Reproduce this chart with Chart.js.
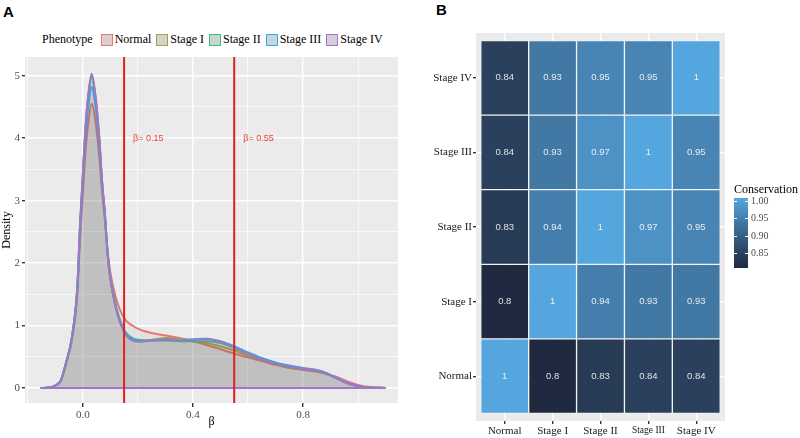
<!DOCTYPE html>
<html>
<head>
<meta charset="utf-8">
<script src="https://cdn.jsdelivr.net/npm/chart.js@4/dist/chart.umd.min.js"></script>
<style>
  body { margin: 0; background: #fff; width: 800px; height: 438px; position: relative; overflow: hidden; font-family: 'Liberation Serif', serif; }
  canvas { position: absolute; top: 0; }
  #chartA { left: 0; }
  #chartB { left: 400px; }
  .tag { position: absolute; font: bold 15px 'Liberation Sans', Arial, sans-serif; color: #000; }
  #legendA { position: absolute; left: 42px; top: 32px; display: flex; align-items: center; font-size: 12px; white-space: nowrap; color: #000; }
  #legendA .key { width: 10px; height: 10px; border: 1.5px solid; margin: 0 2px 0 5px; }
  #legendA .title { margin-right: 3px; }
</style>
</head>
<body>
<div class="tag" style="left:3px;top:3px">A</div>
<div class="tag" style="left:436px;top:1px">B</div>
<div id="legendA"><span class="title">Phenotype</span></div>
<canvas id="chartA" width="400" height="438"></canvas>
<canvas id="chartB" width="400" height="438"></canvas>
<script>
// --- panel A: density of beta per phenotype ---
const phenotypes = ['Normal', 'Stage I', 'Stage II', 'Stage III', 'Stage IV'];
const phenoColors = ['#E8756E', '#A3A24B', '#3FBA85', '#36A6DF', '#A275C6'];

const densityX = [-0.153, -0.12, -0.10, -0.08, -0.06, -0.04, -0.02, -0.01, 0.0, 0.01, 0.02, 0.032, 0.045,
  0.06, 0.07, 0.08, 0.09, 0.10, 0.12, 0.15, 0.18, 0.21, 0.25, 0.30, 0.35, 0.40, 0.45, 0.50, 0.55,
  0.60, 0.65, 0.70, 0.75, 0.80, 0.85, 0.88, 0.92, 0.96, 1.00, 1.04, 1.10];

const normalDensity = [0, 0.01, 0.04, 0.11, 0.40, 0.76, 1.50, 2.40, 3.10, 3.80, 4.25, 4.55, 4.30,
  3.70, 3.15, 2.70, 2.20, 1.85, 1.45, 1.12, 1.00, 0.93, 0.88, 0.84, 0.80, 0.75, 0.69, 0.62, 0.55,
  0.49, 0.43, 0.37, 0.32, 0.29, 0.26, 0.23, 0.18, 0.11, 0.05, 0.015, 0];
const stageIDensity = [0, 0.01, 0.04, 0.12, 0.42, 0.80, 1.60, 2.60, 3.40, 4.18, 4.68, 5.00, 4.70,
  3.98, 3.30, 2.80, 2.16, 1.76, 1.30, 0.90, 0.78, 0.76, 0.77, 0.80, 0.79, 0.75, 0.72, 0.67, 0.60,
  0.52, 0.45, 0.39, 0.33, 0.30, 0.27, 0.23, 0.16, 0.08, 0.03, 0.01, 0];
const stageIIDensity = [0, 0.01, 0.04, 0.12, 0.42, 0.80, 1.60, 2.60, 3.38, 4.15, 4.66, 4.98, 4.68,
  3.98, 3.30, 2.80, 2.17, 1.78, 1.32, 0.93, 0.80, 0.77, 0.76, 0.76, 0.75, 0.75, 0.75, 0.72, 0.64,
  0.55, 0.46, 0.39, 0.34, 0.31, 0.28, 0.24, 0.16, 0.08, 0.03, 0.01, 0];
const stageIIIDensity = [0, 0.01, 0.04, 0.12, 0.42, 0.80, 1.58, 2.55, 3.30, 4.05, 4.52, 4.82, 4.55,
  3.90, 3.25, 2.78, 2.15, 1.76, 1.30, 0.92, 0.78, 0.75, 0.76, 0.77, 0.77, 0.78, 0.79, 0.75, 0.67,
  0.57, 0.48, 0.41, 0.36, 0.32, 0.29, 0.25, 0.17, 0.08, 0.03, 0.01, 0];
const stageIVDensity = [0, 0.01, 0.04, 0.12, 0.42, 0.80, 1.60, 2.60, 3.40, 4.20, 4.70, 5.03, 4.72,
  4.00, 3.30, 2.80, 2.15, 1.75, 1.28, 0.90, 0.76, 0.74, 0.76, 0.78, 0.77, 0.77, 0.78, 0.74, 0.65,
  0.55, 0.46, 0.39, 0.34, 0.31, 0.28, 0.24, 0.16, 0.08, 0.03, 0.01, 0];

const cutoffs = [0.15, 0.55];
const xTickLabelsA = [0.0, 0.4, 0.8];
const yTickLabelsA = [0, 1, 2, 3, 4, 5];
const xRangeA = [-0.21, 1.145];
const yRangeA = [-0.24, 5.3];

// --- panel B: conservation heatmap (rows bottom to top) ---
const stageNames = ['Normal', 'Stage I', 'Stage II', 'Stage III', 'Stage IV'];
const consNormal   = [1,    0.8,  0.83, 0.84, 0.84];
const consStageI   = [0.8,  1,    0.94, 0.93, 0.93];
const consStageII  = [0.83, 0.94, 1,    0.97, 0.95];
const consStageIII = [0.84, 0.93, 0.97, 1,    0.95];
const consStageIV  = [0.84, 0.93, 0.95, 0.95, 1];
const consRows = [consNormal, consStageI, consStageII, consStageIII, consStageIV];
const colorbarTicks = [1.00, 0.95, 0.90, 0.85];
const consLimits = [0.8, 1.0];

Chart.defaults.font.family = "'Liberation Serif', serif";
Chart.defaults.animation = false;

// legend for panel A
const legendEl = document.getElementById('legendA');
phenotypes.forEach((name, i) => {
  const key = document.createElement('span');
  key.className = 'key';
  key.style.borderColor = phenoColors[i];
  key.style.background = 'linear-gradient(' + phenoColors[i] + '22,' + phenoColors[i] + '22), #dcdcdc';
  const txt = document.createElement('span');
  txt.textContent = name;
  legendEl.appendChild(key);
  legendEl.appendChild(txt);
});

const near = (a, b) => Math.abs(a - b) < 1e-6;

const panelBg = {
  id: 'panelBg',
  beforeDraw(chart) {
    const { ctx, chartArea: a } = chart;
    ctx.save();
    ctx.fillStyle = '#EBEBEB';
    ctx.fillRect(a.left, a.top, a.right - a.left, a.bottom - a.top);
    ctx.restore();
  }
};

const cutoffLabels = {
  id: 'cutoffLabels',
  afterDatasetsDraw(chart) {
    const { ctx, scales } = chart;
    ctx.save();
    ctx.fillStyle = '#E4453A';
    ctx.font = "9px 'Liberation Sans', Arial, sans-serif";
    ctx.textBaseline = 'middle';
    cutoffs.forEach(c => {
      const x = scales.x.getPixelForValue(c) + 9;
      const y = scales.y.getPixelForValue(4);
      ctx.fillText('\u03b2= ' + c.toFixed(2), x, y);
    });
    ctx.restore();
  }
};

const densitySeries = [normalDensity, stageIDensity, stageIIDensity, stageIIIDensity, stageIVDensity];
const datasetsA = densitySeries.map((ys, i) => ({
  label: phenotypes[i],
  data: densityX.map((x, k) => ({ x: x, y: ys[k] })),
  borderColor: phenoColors[i],
  borderWidth: 2,
  backgroundColor: 'rgba(110,110,110,0.075)',
  fill: 'origin',
  pointRadius: 0,
  cubicInterpolationMode: 'monotone',
  order: 10 - i
}));
datasetsA.push({
  label: 'baseline',
  data: [{ x: densityX[0], y: 0 }, { x: densityX[densityX.length - 1], y: 0 }],
  borderColor: phenoColors[4], borderWidth: 2, pointRadius: 0, fill: false, order: 1
});
cutoffs.forEach(c => datasetsA.push({
  label: 'cutoff ' + c,
  data: [{ x: c, y: yRangeA[0] }, { x: c, y: yRangeA[1] }],
  borderColor: '#E0201B', borderWidth: 2, pointRadius: 0, fill: false, order: 0
}));

new Chart(document.getElementById('chartA'), {
  type: 'line',
  data: { datasets: datasetsA },
  options: {
    responsive: false,
    layout: { padding: { top: 57, right: 2, bottom: 9, left: 0 } },
    plugins: { legend: { display: false }, tooltip: { enabled: false } },
    scales: {
      x: {
        type: 'linear', min: xRangeA[0], max: xRangeA[1],
        afterBuildTicks: s => { s.ticks = [-0.2, 0, 0.2, 0.4, 0.6, 0.8, 1.0].map(v => ({ value: v })); },
        afterFit: s => { s.height = 26; },
        ticks: {
          autoSkip: false, maxRotation: 0, padding: 2, color: '#4d4d4d', font: { size: 11 },
          callback: v => xTickLabelsA.some(t => near(t, v)) ? v.toFixed(1) : ''
        },
        grid: {
          color: '#fff', tickLength: 4,
          lineWidth: c => (c.tick && xTickLabelsA.some(t => near(t, c.tick.value))) ? 1.4 : 0.7,
          tickColor: c => (c.tick && xTickLabelsA.some(t => near(t, c.tick.value))) ? '#333' : 'rgba(0,0,0,0)'
        },
        border: { display: false },
        title: { display: true, text: '\u03b2', color: '#000', font: { size: 12 }, padding: { top: 0, bottom: 0 } }
      },
      y: {
        type: 'linear', min: yRangeA[0], max: yRangeA[1],
        afterBuildTicks: s => { const t = []; for (let v = 0; v <= 5; v += 0.5) t.push({ value: v }); s.ticks = t; },
        afterFit: s => { s.width = 25; },
        ticks: {
          autoSkip: false, padding: 2, color: '#4d4d4d', font: { size: 11 },
          callback: v => yTickLabelsA.some(t => near(t, v)) ? String(v) : ''
        },
        grid: {
          color: '#fff', tickLength: 3,
          lineWidth: c => (c.tick && yTickLabelsA.some(t => near(t, c.tick.value))) ? 1.4 : 0.7,
          tickColor: c => (c.tick && yTickLabelsA.some(t => near(t, c.tick.value))) ? '#333' : 'rgba(0,0,0,0)'
        },
        border: { display: false },
        title: { display: true, text: 'Density', color: '#000', font: { size: 12 }, padding: { top: 0, bottom: 0 } }
      }
    }
  },
  plugins: [panelBg, cutoffLabels]
});

// colour scale interpolated in Lab between a dark and a light blue
function hexRgb(h) { return [1, 3, 5].map(i => parseInt(h.slice(i, i + 2), 16)); }
function toLab(rgb) {
  const [r, g, b] = rgb.map(c => { c /= 255; return c <= 0.04045 ? c / 12.92 : Math.pow((c + 0.055) / 1.055, 2.4); });
  const X = (0.4124564 * r + 0.3575761 * g + 0.1804375 * b) / 0.95047;
  const Y = 0.2126729 * r + 0.7151522 * g + 0.0721750 * b;
  const Z = (0.0193339 * r + 0.1191920 * g + 0.9503041 * b) / 1.08883;
  const f = t => t > 0.008856 ? Math.cbrt(t) : 7.787 * t + 16 / 116;
  return [116 * f(Y) - 16, 500 * (f(X) - f(Y)), 200 * (f(Y) - f(Z))];
}
function fromLab([L, a, b]) {
  const fy = (L + 16) / 116, fx = fy + a / 500, fz = fy - b / 200;
  const inv = t => t * t * t > 0.008856 ? t * t * t : (t - 16 / 116) / 7.787;
  const X = inv(fx) * 0.95047, Y = inv(fy), Z = inv(fz) * 1.08883;
  const r = 3.2404542 * X - 1.5371385 * Y - 0.4985314 * Z;
  const g = -0.9692660 * X + 1.8760108 * Y + 0.0415560 * Z;
  const bl = 0.0556434 * X - 0.2040259 * Y + 1.0572252 * Z;
  return [r, g, bl].map(c => {
    c = c <= 0.0031308 ? 12.92 * c : 1.055 * Math.pow(c, 1 / 2.4) - 0.055;
    return Math.round(Math.min(1, Math.max(0, c)) * 255);
  });
}
const labLow = toLab(hexRgb('#1F2A40'));
const labHigh = toLab(hexRgb('#55A6DF'));
function consColor(v) {
  const t = Math.min(1, Math.max(0, (v - consLimits[0]) / (consLimits[1] - consLimits[0])));
  const c = fromLab(labLow.map((l, i) => l + (labHigh[i] - l) * t));
  return 'rgb(' + c.join(',') + ')';
}

const cellLabels = {
  id: 'cellLabels',
  afterDatasetsDraw(chart) {
    const { ctx } = chart;
    ctx.save();
    ctx.fillStyle = 'rgba(255,255,255,0.85)';
    ctx.font = "9.5px 'Liberation Sans', Arial, sans-serif";
    ctx.textAlign = 'center';
    ctx.textBaseline = 'middle';
    chart.data.datasets.forEach((ds, di) => {
      chart.getDatasetMeta(di).data.forEach((bar, k) => {
        ctx.fillText(String(ds.data[k].v), bar.x, (bar.y + bar.base) / 2);
      });
    });
    ctx.restore();
  }
};

const colorbar = {
  id: 'colorbar',
  afterDraw(chart) {
    const { ctx } = chart;
    const left = 334, right = 348, top = 198, bottom = 268;
    const yOf = v => 201 + (consLimits[1] - v) * (52 / 0.15);
    ctx.save();
    const grad = ctx.createLinearGradient(0, top, 0, bottom);
    for (let k = 0; k <= 20; k++) {
      grad.addColorStop(k / 20, consColor(consLimits[1] - (k / 20) * (consLimits[1] - consLimits[0])));
    }
    ctx.fillStyle = grad;
    ctx.fillRect(left, top, right - left, bottom - top);
    ctx.strokeStyle = '#fff';
    ctx.lineWidth = 1;
    ctx.fillStyle = '#4d4d4d';
    ctx.font = '10px "Liberation Serif", serif';
    ctx.textBaseline = 'middle';
    colorbarTicks.forEach(v => {
      const y = Math.round(yOf(v)) + 0.5;
      ctx.beginPath();
      ctx.moveTo(left, y); ctx.lineTo(left + 3, y);
      ctx.moveTo(right - 3, y); ctx.lineTo(right, y);
      ctx.stroke();
      ctx.fillText(v.toFixed(2), right + 3, y);
    });
    ctx.fillStyle = '#000';
    ctx.font = '12px "Liberation Serif", serif';
    ctx.fillText('Conservation', left, 190);
    ctx.restore();
  }
};

const datasetsB = consRows.map((row, j) => ({
  label: stageNames[j],
  data: row.map((v, i) => ({ x: i + 1, y: [j + 0.5, j + 1.5], v: v })),
  backgroundColor: row.map(consColor),
  borderColor: 'rgba(255,255,255,0.3)',
  borderWidth: 1,
  borderSkipped: false,
  grouped: false,
  barPercentage: 1,
  categoryPercentage: 1
}));

new Chart(document.getElementById('chartB'), {
  type: 'bar',
  data: { datasets: datasetsB },
  options: {
    responsive: false,
    layout: { padding: { top: 33, right: 75, bottom: 0, left: 0 } },
    plugins: { legend: { display: false }, tooltip: { enabled: false } },
    scales: {
      x: {
        type: 'linear', min: 0.4, max: 5.6, offset: false,
        afterBuildTicks: s => { s.ticks = [1, 2, 3, 4, 5].map(v => ({ value: v })); },
        afterFit: s => { s.height = 17; },
        ticks: {
          autoSkip: false, maxRotation: 0, padding: 1, color: '#1a1a1a',
          font: c => ({ size: c.index === 3 ? 9.5 : 11 }),
          callback: v => stageNames[Math.round(v) - 1]
        },
        grid: { color: '#fff', lineWidth: 1.4, tickColor: '#333', tickLength: 3, offset: false },
        border: { display: false }
      },
      y: {
        type: 'linear', min: 0.4, max: 5.6,
        afterBuildTicks: s => { s.ticks = [1, 2, 3, 4, 5].map(v => ({ value: v })); },
        afterFit: s => { s.width = 76; },
        ticks: {
          autoSkip: false, padding: 1, color: '#1a1a1a', font: { size: 11 },
          callback: v => stageNames[Math.round(v) - 1]
        },
        grid: { color: '#fff', lineWidth: 1.4, tickColor: '#333', tickLength: 3 },
        border: { display: false }
      }
    }
  },
  plugins: [panelBg, cellLabels, colorbar]
});
</script>
</body>
</html>
